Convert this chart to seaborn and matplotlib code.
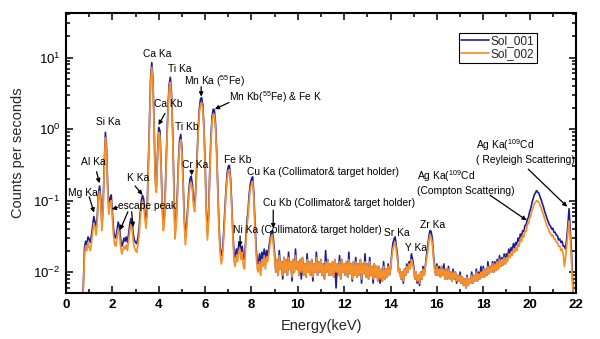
import numpy as np
import pandas as pd
import matplotlib
matplotlib.use("Agg")
import matplotlib.pyplot as plt
from matplotlib.ticker import MultipleLocator, LogLocator, NullFormatter
import seaborn as sns

# ---------------- data (counts per second, given in milli-cps) ----------------
# channels every 0.05 keV starting at 0.70 keV (one row = 0.5 keV)
sol001_low = [
    3, 7, 22, 27, 24, 31,
    29, 26, 33, 45, 60, 50, 40, 62, 125, 160,
    105, 45, 85, 320, 900, 550, 150, 75, 110, 120,
    70, 40, 31, 30, 38, 50, 44, 30, 23, 25,
    30, 27, 31, 26, 34, 46, 56, 49, 34, 28,
    26, 25, 30, 40, 65, 100, 118, 105, 70, 50,
    75, 320, 1450, 5300, 8500, 5000, 1200, 200, 160, 450,
    1050, 950, 350, 90, 46, 62, 210, 720, 2100, 4200,
    5300, 3200, 1000, 200, 36, 50, 120, 350, 700, 840,
    550, 200, 60, 30, 45, 80, 140, 200, 220, 170,
    100, 85, 150, 400, 1000, 1900, 2600, 2750, 2200, 1100,
    350, 80, 35, 60, 250, 750, 1500, 1900, 1850, 1200,
    500, 150, 45, 22, 17, 20, 35, 70, 140, 240,
    300, 310, 200, 90, 35, 18, 16, 21, 18, 24,
    26, 19, 23, 16, 15, 28, 50, 70, 120, 170,
    200, 215, 130, 50, 22, 14, 13, 18, 12, 19,
    15, 21, 14, 20, 17, 22, 28, 36, 38, 28,
]
sol002_low = [
    3, 6, 18, 23, 20, 26,
    22, 20, 26, 36, 48, 43, 33, 52, 105, 135,
    90, 38, 72, 270, 760, 470, 130, 64, 93, 100,
    58, 32, 24, 23, 30, 40, 35, 24, 18, 20,
    23, 21, 24, 20, 27, 37, 46, 40, 27, 22,
    20, 19, 24, 32, 53, 83, 98, 88, 58, 41,
    63, 270, 1250, 4600, 7300, 4300, 1030, 170, 130, 380,
    900, 800, 300, 75, 38, 52, 180, 620, 1800, 3600,
    4500, 2750, 860, 170, 29, 42, 100, 300, 600, 710,
    470, 170, 50, 24, 37, 67, 120, 170, 180, 140,
    85, 70, 130, 340, 860, 1600, 2200, 2350, 1900, 950,
    300, 68, 28, 50, 210, 640, 1280, 1620, 1580, 1020,
    430, 130, 37, 18, 13, 16, 29, 60, 120, 200,
    260, 270, 170, 77, 29, 14, 12, 17, 14, 20,
    21, 15, 19, 12, 11, 23, 42, 60, 100, 145,
    170, 185, 110, 42, 18, 11, 10, 14, 9, 15,
    12, 17, 11, 16, 14, 18, 24, 31, 33, 23,
]
# continues at 9.00 keV, same 0.05 keV channels
sol001_high = [
    18, 10, 15, 9, 20, 11, 14, 8, 16, 10,
    15, 9, 19, 11, 14, 7.5, 15, 10, 21, 11,
    14, 9, 15, 8, 16, 9, 13, 8.5, 18, 10,
    14, 9, 15, 7.5, 13, 10, 19, 9, 14, 10,
    15, 9, 13, 8, 20, 10, 15, 9, 13, 9,
    14, 8.5, 15, 6, 13, 9, 17, 8, 15, 10,
    13, 9, 14, 8.5, 19, 9.5, 13, 7.5, 14, 9,
    16, 8.5, 13, 9, 15, 7, 13, 9.5, 18, 8.5,
    13, 8, 16, 9, 12, 7, 13, 8.5, 12, 7.5,
    12, 7, 11, 7.5, 14, 8, 11, 8.5, 13, 9,
    11, 18, 25, 29, 31, 23, 17, 10, 11, 8,
    10, 7, 11, 9, 13, 10, 14, 12, 18, 15,
    12, 8, 10, 7, 9, 6.5, 10, 8, 12, 9,
    12, 17, 22, 31, 38, 37, 30, 18, 12, 9,
    13, 9, 12, 8.5, 12, 9, 13, 8, 11, 8,
    12, 8, 10, 7.5, 11, 8, 10, 7, 9, 7.5,
    10, 7, 8.5, 6.5, 8, 6, 9, 6.5, 8, 7,
    10, 7, 9, 7.5, 11, 7.5, 10, 8, 12, 8.5,
    12, 8.5, 11, 9, 14, 9.5, 12, 10, 14, 10,
    14, 10.5, 15, 11, 17, 12, 16, 12.5, 18, 13,
    18, 16, 21, 18, 22, 20, 25, 22, 26, 24,
    30, 27, 34, 32, 38, 37, 45, 46, 55, 58,
    70, 78, 93, 106, 120, 128, 138, 131, 127, 112,
    103, 90, 81, 70, 63, 56, 51, 46, 44, 40,
    41, 36, 36, 33, 32, 28, 29, 26, 27, 23,
    23, 21, 30, 45, 77, 40, 20, 8, 4, 3,
]
sol002_high = [
    16, 10, 15, 9, 17, 11, 14, 9, 16, 10,
    15, 9, 16, 11, 14, 8.5, 15, 10, 17, 11,
    14, 9, 15, 10, 16, 9, 13, 8.5, 15, 10,
    14, 9, 15, 8.5, 13, 10, 16, 9, 14, 10,
    15, 9, 13, 8, 14, 10, 15, 9, 13, 9,
    14, 8.5, 15, 10, 13, 9, 14, 8, 15, 10,
    13, 9, 14, 8.5, 15, 9.5, 13, 8, 14, 9,
    14, 8.5, 13, 9, 15, 8, 13, 9.5, 14, 8.5,
    13, 8, 14, 9, 12, 8, 13, 8.5, 12, 7.5,
    12, 8, 11, 7.5, 12, 8, 11, 8.5, 12, 9,
    11, 16, 21, 24, 26, 20, 15, 10, 11, 8,
    10, 7.5, 11, 9, 12, 10, 13, 11, 15, 13,
    11, 8, 10, 7.5, 9, 7, 10, 8, 11, 9,
    12, 15, 19, 27, 33, 31, 25, 16, 11, 9,
    12, 9, 11, 8.5, 12, 9, 11, 8, 11, 8,
    11, 8, 10, 7.5, 10, 8, 10, 7.5, 9, 7.5,
    9, 7, 8.5, 6.5, 8, 6, 8.5, 6.5, 8, 7,
    9, 7, 9, 7.5, 10, 7.5, 9.5, 8, 10, 8.5,
    11, 8.5, 11, 9, 12, 9.5, 12, 10, 13, 10,
    13, 10.5, 14, 11, 15, 12, 15, 12.5, 16, 13,
    16, 14, 18, 16, 19, 17, 21, 19, 22, 20,
    25, 23, 29, 27, 33, 31, 38, 37, 46, 48,
    57, 62, 73, 79, 91, 94, 100, 97, 95, 85,
    79, 69, 63, 55, 50, 44, 41, 36, 35, 32,
    33, 29, 29, 26, 26, 23, 23, 20, 21, 18,
    12, 16, 24, 36, 52, 30, 15, 7, 4, 3,
]

series_names = ["Sol_001", "Sol_002"]
x_ticks = [0, 2, 4, 6, 8, 10, 12, 14, 16, 18, 20, 22]

# peak labels: (text, text energy, text counts, arrow tail, arrow tip)
labels = [
    ("Ca Ka", 3.32, 11.2, None, None),
    ("Ti Ka", 4.40, 6.9, None, None),
    ("Mn Ka ($^{55}$Fe)", 5.09, 4.7, (5.83, 3.9), (5.83, 2.85)),
    ("Mn Kb($^{55}$Fe) & Fe K", 7.05, 2.8, (7.03, 2.35), (6.42, 1.9)),
    ("Ca Kb", 3.80, 2.24, (4.27, 1.66), (3.99, 1.14)),
    ("Ti Kb", 4.70, 1.07, None, None),
    ("Si Ka", 1.29, 1.25, None, None),
    ("Al Ka", 0.65, 0.35, (1.32, 0.253), (1.44, 0.175)),
    ("Cr Ka", 5.00, 0.314, (5.42, 0.267), (5.42, 0.225)),
    ("Fe Kb", 6.82, 0.368, None, None),
    ("Cu Ka (Collimator& target holder)", 7.81, 0.25, None, None),
    ("K Ka", 2.63, 0.207, (2.98, 0.16), (3.30, 0.12)),
    ("Mg Ka", 0.09, 0.127, (1.00, 0.113), (1.21, 0.068)),
    ("escape peak", 2.24, 0.0845, (2.22, 0.080), (1.97, 0.076)),
    ("Cu Kb (Collimator& target holder)", 8.49, 0.0914, (8.94, 0.0736), (8.94, 0.041)),
    ("Ni Ka (Collimator& target holder)", 7.20, 0.0386, (7.51, 0.032), (7.51, 0.0226)),
    ("Sr Ka", 13.72, 0.0355, None, None),
    ("Y Ka", 14.62, 0.0217, None, None),
    ("Zr Ka", 15.27, 0.0454, None, None),
    ("Ag Ka($^{109}$Cd\n(Compton Scattering)", 15.14, 0.179, (18.29, 0.119), (19.87, 0.053)),
    ("Ag Ka($^{109}$Cd\n( Reyleigh Scattering)", 17.67, 0.49, (19.94, 0.275), (21.62, 0.082)),
]
escape_extra_arrows = [((2.67, 0.0697), (2.33, 0.0386)), ((2.83, 0.0697), (2.90, 0.0426))]

# ---------------- build table ----------------
mcps1 = np.array(sol001_low + sol001_high, dtype=float)
mcps2 = np.array(sol002_low + sol002_high, dtype=float)
n = min(len(mcps1), len(mcps2))
energy = np.round(0.70 + 0.05 * np.arange(n), 2)
df = pd.DataFrame({
    "energy": np.concatenate([energy, energy]),
    "cps": np.concatenate([mcps1[:n], mcps2[:n]]) * 1e-3,
    "series": [series_names[0]] * n + [series_names[1]] * n,
})

# ---------------- style ----------------
sns.set_theme(style="ticks")
plt.rcParams["font.family"] = ["Liberation Sans", "DejaVu Sans"]
plt.rcParams["mathtext.fontset"] = "custom"
plt.rcParams["mathtext.rm"] = "Liberation Sans"
plt.rcParams["mathtext.bf"] = "Liberation Sans:bold"
plt.rcParams["mathtext.default"] = "regular"

fig = plt.figure(figsize=(6.0, 3.39), dpi=100)
ax = fig.add_axes([0.11, 0.1357, 0.85, 0.826])

colors = {"Sol_001": "#1c1c96", "Sol_002": "#f5902c"}
sns.lineplot(data=df[df.series == "Sol_001"], x="energy", y="cps", ax=ax,
             color=colors["Sol_001"], lw=1.2, estimator=None, sort=False, label="Sol_001")
sns.lineplot(data=df[df.series == "Sol_002"], x="energy", y="cps", ax=ax,
             color=colors["Sol_002"], lw=1.25, estimator=None, sort=False, label="Sol_002")

ax.set_yscale("log")
ax.set_xlim(0, 22)
ax.set_ylim(0.0051, 42)
ax.set_xticks(x_ticks)
ax.xaxis.set_minor_locator(MultipleLocator(1))
ax.yaxis.set_minor_locator(LogLocator(base=10, subs=np.arange(2, 10)))
ax.yaxis.set_minor_formatter(NullFormatter())
ax.tick_params(which="both", direction="in", top=True, right=True, colors="black",
               labelsize=9.5, width=1.1)
ax.tick_params(which="major", length=5, pad=4)
ax.tick_params(which="minor", length=3)
for lab in ax.get_xticklabels():
    lab.set_fontweight("bold")
for s in ax.spines.values():
    s.set_linewidth(1.5)
    s.set_color("black")
ax.set_xlabel("Energy(keV)", fontsize=10.5, labelpad=6)
ax.set_ylabel("Counts per seconds", fontsize=10.5, labelpad=6)

arrow_kw = dict(arrowstyle="-|>", color="black", lw=0.9, mutation_scale=6,
                shrinkA=0, shrinkB=0)
for text, tx, ty, tail, tip in labels:
    ax.text(tx, ty, text, fontsize=7.4, ha="left", va="center", color="black",
            linespacing=1.25)
    if tail is not None:
        ax.annotate("", xy=tip, xytext=tail, arrowprops=arrow_kw)
for tail, tip in escape_extra_arrows:
    ax.annotate("", xy=tip, xytext=tail, arrowprops=arrow_kw)

leg = ax.legend(loc="upper left", bbox_to_anchor=(0.77, 0.93), fontsize=8.6,
                frameon=True, fancybox=False, edgecolor="black", framealpha=1,
                handlelength=2.3, handletextpad=0.2, labelspacing=0.1,
                borderpad=0.2, borderaxespad=0)
leg.get_frame().set_linewidth(0.8)

fig.savefig("out.png", dpi=100)
